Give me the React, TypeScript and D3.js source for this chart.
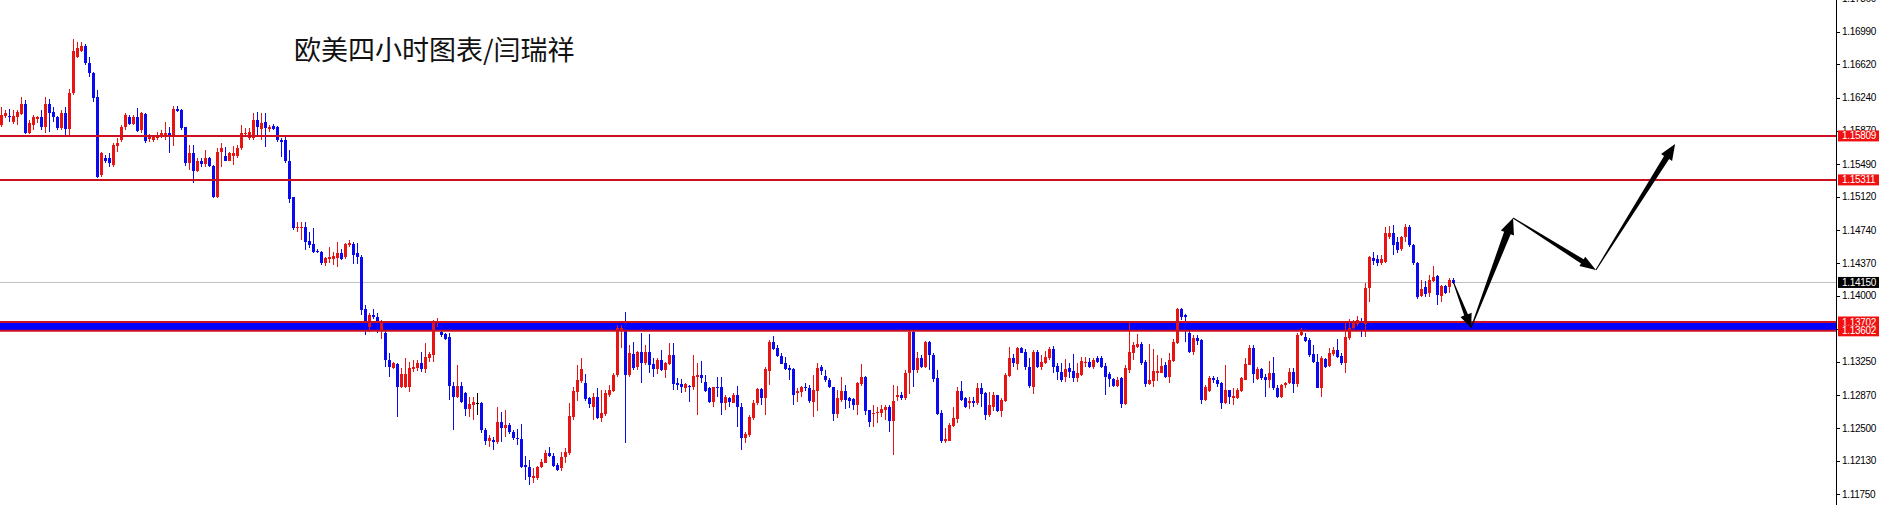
import React from "react";
import * as d3 from "d3";

const W = 1879;
const H = 505;
const AXIS_X = 1836;
const SLOTS = 459;

// [open, high, low, close], 4H bars
const bars: [number, number, number, number][] = [
  [1.1593,1.1614,1.1591,1.1605],[1.1603,1.1610,1.1601,1.1607],[1.1603,1.1611,1.1597,1.1602],[1.1597,1.1610,1.1594,1.1603],
  [1.1602,1.1610,1.1593,1.1608],[1.1606,1.1625,1.1605,1.1617],[1.1617,1.1622,1.1583,1.1584],[1.1584,1.1599,1.1583,1.1596],
  [1.1593,1.1605,1.1588,1.1602],[1.1600,1.1603,1.1596,1.1602],[1.1602,1.1610,1.1588,1.1591],[1.1591,1.1625,1.1584,1.1617],
  [1.1617,1.1623,1.1585,1.1607],[1.1608,1.1614,1.1597,1.1602],[1.1602,1.1603,1.1588,1.1590],[1.1590,1.1610,1.1588,1.1607],
  [1.1607,1.1614,1.1582,1.1589],[1.1589,1.1634,1.1582,1.1630],[1.1630,1.1691,1.1627,1.1677],[1.1670,1.1687,1.1669,1.1681],
  [1.1677,1.1687,1.1676,1.1683],[1.1683,1.1685,1.1661,1.1664],[1.1664,1.1670,1.1648,1.1652],[1.1652,1.1653,1.1619,1.1624],
  [1.1625,1.1633,1.1533,1.1534],[1.1537,1.1563,1.1534,1.1562],[1.1556,1.1559,1.1550,1.1553],[1.1556,1.1562,1.1546,1.1550],
  [1.1548,1.1573,1.1546,1.1571],[1.1570,1.1579,1.1563,1.1573],[1.1576,1.1593,1.1574,1.1591],[1.1591,1.1607,1.1588,1.1605],
  [1.1602,1.1605,1.1593,1.1594],[1.1594,1.1605,1.1593,1.1602],[1.1602,1.1613,1.1585,1.1587],[1.1588,1.1608,1.1584,1.1607],
  [1.1606,1.1607,1.1573,1.1575],[1.1577,1.1583,1.1574,1.1580],[1.1576,1.1581,1.1574,1.1580],[1.1579,1.1585,1.1576,1.1581],
  [1.1580,1.1588,1.1579,1.1584],[1.1582,1.1597,1.1576,1.1584],[1.1584,1.1591,1.1562,1.1581],[1.1581,1.1615,1.1570,1.1611],
  [1.1611,1.1615,1.1608,1.1609],[1.1610,1.1611,1.1588,1.1590],[1.1591,1.1591,1.1547,1.1550],[1.1550,1.1571,1.1542,1.1562],
  [1.1562,1.1571,1.1528,1.1541],[1.1541,1.1556,1.1540,1.1552],[1.1552,1.1556,1.1546,1.1549],[1.1549,1.1565,1.1546,1.1556],
  [1.1556,1.1557,1.1546,1.1547],[1.1547,1.1548,1.1511,1.1512],[1.1512,1.1567,1.1511,1.1563],[1.1563,1.1573,1.1546,1.1567],
  [1.1558,1.1568,1.1552,1.1553],[1.1553,1.1563,1.1552,1.1561],[1.1558,1.1570,1.1548,1.1561],[1.1558,1.1571,1.1556,1.1567],
  [1.1567,1.1593,1.1565,1.1584],[1.1583,1.1590,1.1580,1.1584],[1.1578,1.1590,1.1576,1.1585],[1.1578,1.1607,1.1576,1.1599],
  [1.1599,1.1608,1.1580,1.1591],[1.1589,1.1607,1.1576,1.1596],[1.1597,1.1607,1.1568,1.1590],[1.1589,1.1593,1.1585,1.1591],
  [1.1592,1.1594,1.1588,1.1589],[1.1591,1.1592,1.1574,1.1576],[1.1576,1.1579,1.1557,1.1574],[1.1576,1.1580,1.1550,1.1552],
  [1.1552,1.1565,1.1505,1.1510],[1.1512,1.1512,1.1474,1.1477],[1.1477,1.1484,1.1472,1.1478],[1.1477,1.1484,1.1463,1.1478],
  [1.1478,1.1484,1.1452,1.1461],[1.1462,1.1472,1.1454,1.1457],[1.1459,1.1477,1.1448,1.1450],[1.1451,1.1453,1.1448,1.1449],
  [1.1450,1.1451,1.1435,1.1437],[1.1437,1.1444,1.1434,1.1443],[1.1442,1.1455,1.1437,1.1444],[1.1442,1.1450,1.1435,1.1445],
  [1.1443,1.1461,1.1433,1.1448],[1.1448,1.1453,1.1440,1.1442],[1.1444,1.1460,1.1442,1.1459],[1.1457,1.1463,1.1455,1.1460],
  [1.1459,1.1461,1.1436,1.1446],[1.1448,1.1460,1.1436,1.1444],[1.1444,1.1446,1.1378,1.1384],[1.1385,1.1390,1.1356,1.1370],
  [1.1365,1.1380,1.1359,1.1378],[1.1378,1.1385,1.1374,1.1376],[1.1376,1.1380,1.1358,1.1369],[1.1361,1.1372,1.1351,1.1370],
  [1.1358,1.1361,1.1319,1.1327],[1.1327,1.1335,1.1308,1.1319],[1.1318,1.1325,1.1317,1.1324],[1.1323,1.1324,1.1263,1.1297],
  [1.1297,1.1318,1.1296,1.1311],[1.1297,1.1330,1.1295,1.1311],[1.1297,1.1325,1.1291,1.1318],[1.1317,1.1327,1.1314,1.1319],
  [1.1318,1.1327,1.1315,1.1324],[1.1324,1.1336,1.1314,1.1317],[1.1317,1.1346,1.1313,1.1331],[1.1330,1.1336,1.1325,1.1334],
  [1.1333,1.1372,1.1325,1.1370],[1.1369,1.1375,1.1365,1.1370],[1.1359,1.1361,1.1353,1.1355],[1.1357,1.1358,1.1350,1.1351],
  [1.1353,1.1358,1.1282,1.1298],[1.1298,1.1302,1.1248,1.1285],[1.1285,1.1322,1.1284,1.1298],[1.1298,1.1302,1.1278,1.1280],
  [1.1290,1.1291,1.1264,1.1272],[1.1272,1.1285,1.1263,1.1277],[1.1276,1.1285,1.1259,1.1280],[1.1278,1.1290,1.1265,1.1278],
  [1.1278,1.1280,1.1245,1.1248],[1.1248,1.1250,1.1231,1.1235],[1.1236,1.1242,1.1229,1.1239],[1.1237,1.1240,1.1225,1.1234],
  [1.1234,1.1274,1.1232,1.1257],[1.1257,1.1268,1.1234,1.1250],[1.1250,1.1271,1.1240,1.1254],[1.1254,1.1256,1.1243,1.1246],
  [1.1246,1.1248,1.1237,1.1239],[1.1239,1.1249,1.1231,1.1238],[1.1238,1.1255,1.1205,1.1206],[1.1208,1.1219,1.1191,1.1206],
  [1.1206,1.1214,1.1186,1.1195],[1.1194,1.1205,1.1188,1.1196],[1.1194,1.1207,1.1191,1.1206],[1.1206,1.1215,1.1205,1.1212],
  [1.1211,1.1225,1.1211,1.1222],[1.1222,1.1229,1.1217,1.1218],[1.1219,1.1222,1.1206,1.1207],[1.1208,1.1211,1.1202,1.1203],
  [1.1205,1.1223,1.1201,1.1217],[1.1217,1.1227,1.1211,1.1223],[1.1222,1.1279,1.1220,1.1264],[1.1263,1.1297,1.1259,1.1292],
  [1.1291,1.1321,1.1281,1.1304],[1.1303,1.1329,1.1301,1.1317],[1.1301,1.1311,1.1281,1.1283],[1.1284,1.1285,1.1273,1.1277],
  [1.1274,1.1290,1.1259,1.1285],[1.1285,1.1295,1.1260,1.1262],[1.1262,1.1293,1.1257,1.1267],[1.1266,1.1293,1.1264,1.1290],
  [1.1288,1.1299,1.1285,1.1293],[1.1292,1.1312,1.1291,1.1310],[1.1310,1.1367,1.1308,1.1363],[1.1360,1.1367,1.1341,1.1363],
  [1.1369,1.1382,1.1233,1.1310],[1.1310,1.1344,1.1308,1.1335],[1.1334,1.1347,1.1316,1.1318],[1.1319,1.1337,1.1316,1.1336],
  [1.1336,1.1358,1.1301,1.1324],[1.1324,1.1344,1.1322,1.1336],[1.1336,1.1357,1.1313,1.1322],[1.1323,1.1330,1.1308,1.1317],
  [1.1317,1.1330,1.1311,1.1327],[1.1327,1.1339,1.1315,1.1316],[1.1316,1.1325,1.1307,1.1324],[1.1323,1.1346,1.1322,1.1333],
  [1.1333,1.1346,1.1293,1.1300],[1.1301,1.1307,1.1293,1.1299],[1.1300,1.1306,1.1290,1.1297],[1.1296,1.1301,1.1291,1.1300],
  [1.1298,1.1299,1.1280,1.1297],[1.1297,1.1333,1.1293,1.1309],[1.1308,1.1324,1.1265,1.1310],[1.1310,1.1326,1.1301,1.1307],
  [1.1302,1.1310,1.1291,1.1292],[1.1295,1.1297,1.1279,1.1280],[1.1280,1.1297,1.1274,1.1297],[1.1297,1.1308,1.1285,1.1296],
  [1.1297,1.1308,1.1265,1.1278],[1.1278,1.1288,1.1271,1.1285],[1.1284,1.1285,1.1274,1.1280],[1.1279,1.1290,1.1278,1.1287],
  [1.1287,1.1298,1.1251,1.1274],[1.1274,1.1279,1.1225,1.1239],[1.1239,1.1246,1.1233,1.1243],[1.1242,1.1265,1.1240,1.1263],
  [1.1261,1.1282,1.1259,1.1279],[1.1279,1.1296,1.1276,1.1294],[1.1294,1.1296,1.1276,1.1284],[1.1284,1.1319,1.1265,1.1317],
  [1.1315,1.1350,1.1299,1.1347],[1.1347,1.1354,1.1338,1.1340],[1.1341,1.1344,1.1331,1.1332],[1.1332,1.1335,1.1323,1.1323],
  [1.1324,1.1331,1.1316,1.1317],[1.1318,1.1321,1.1305,1.1316],[1.1317,1.1318,1.1276,1.1288],[1.1290,1.1296,1.1280,1.1292],
  [1.1291,1.1298,1.1285,1.1297],[1.1297,1.1301,1.1292,1.1295],[1.1296,1.1299,1.1279,1.1281],[1.1280,1.1310,1.1263,1.1293],
  [1.1292,1.1324,1.1269,1.1318],[1.1319,1.1321,1.1310,1.1315],[1.1309,1.1316,1.1302,1.1304],[1.1305,1.1307,1.1295,1.1297],
  [1.1297,1.1297,1.1258,1.1266],[1.1266,1.1293,1.1262,1.1284],[1.1282,1.1308,1.1280,1.1292],[1.1292,1.1299,1.1272,1.1282],
  [1.1284,1.1285,1.1273,1.1281],[1.1283,1.1284,1.1271,1.1276],[1.1276,1.1302,1.1265,1.1301],[1.1300,1.1323,1.1298,1.1308],
  [1.1308,1.1309,1.1265,1.1270],[1.1271,1.1271,1.1251,1.1257],[1.1266,1.1276,1.1251,1.1267],[1.1267,1.1274,1.1256,1.1268],
  [1.1267,1.1276,1.1263,1.1272],[1.1271,1.1276,1.1259,1.1274],[1.1274,1.1276,1.1246,1.1258],[1.1258,1.1299,1.1220,1.1281],
  [1.1285,1.1298,1.1281,1.1287],[1.1287,1.1291,1.1282,1.1284],[1.1284,1.1316,1.1282,1.1313],[1.1313,1.1361,1.1289,1.1359],
  [1.1359,1.1360,1.1297,1.1316],[1.1316,1.1336,1.1312,1.1330],[1.1330,1.1333,1.1318,1.1319],[1.1319,1.1349,1.1318,1.1347],
  [1.1347,1.1349,1.1316,1.1333],[1.1333,1.1335,1.1302,1.1306],[1.1307,1.1316,1.1265,1.1266],[1.1267,1.1271,1.1233,1.1235],
  [1.1236,1.1250,1.1233,1.1238],[1.1236,1.1256,1.1235,1.1254],[1.1253,1.1274,1.1251,1.1262],[1.1260,1.1297,1.1256,1.1292],
  [1.1292,1.1303,1.1281,1.1282],[1.1284,1.1285,1.1273,1.1274],[1.1279,1.1285,1.1272,1.1281],[1.1281,1.1285,1.1274,1.1279],
  [1.1279,1.1301,1.1276,1.1295],[1.1296,1.1301,1.1274,1.1289],[1.1290,1.1291,1.1259,1.1265],[1.1265,1.1291,1.1263,1.1276],
  [1.1274,1.1291,1.1270,1.1287],[1.1287,1.1288,1.1268,1.1270],[1.1270,1.1284,1.1263,1.1282],[1.1281,1.1312,1.1280,1.1310],
  [1.1309,1.1342,1.1308,1.1329],[1.1329,1.1334,1.1319,1.1324],[1.1323,1.1342,1.1316,1.1341],[1.1341,1.1342,1.1335,1.1335],
  [1.1336,1.1340,1.1316,1.1319],[1.1319,1.1330,1.1295,1.1298],[1.1297,1.1339,1.1289,1.1336],[1.1336,1.1339,1.1318,1.1319],
  [1.1319,1.1333,1.1316,1.1325],[1.1324,1.1337,1.1323,1.1331],[1.1329,1.1342,1.1327,1.1340],[1.1340,1.1343,1.1313,1.1319],
  [1.1320,1.1324,1.1305,1.1314],[1.1314,1.1324,1.1302,1.1304],[1.1308,1.1328,1.1302,1.1317],[1.1318,1.1324,1.1307,1.1314],
  [1.1315,1.1334,1.1302,1.1307],[1.1307,1.1324,1.1302,1.1312],[1.1310,1.1331,1.1309,1.1326],[1.1324,1.1331,1.1319,1.1325],
  [1.1325,1.1330,1.1318,1.1319],[1.1319,1.1330,1.1317,1.1327],[1.1330,1.1332,1.1324,1.1325],[1.1330,1.1332,1.1318,1.1319],
  [1.1320,1.1324,1.1288,1.1308],[1.1311,1.1314,1.1297,1.1306],[1.1306,1.1307,1.1297,1.1298],[1.1298,1.1308,1.1297,1.1305],
  [1.1307,1.1308,1.1273,1.1277],[1.1277,1.1322,1.1276,1.1318],[1.1316,1.1370,1.1313,1.1336],[1.1335,1.1347,1.1327,1.1344],
  [1.1342,1.1357,1.1341,1.1345],[1.1345,1.1347,1.1322,1.1324],[1.1325,1.1327,1.1297,1.1300],[1.1300,1.1345,1.1299,1.1304],
  [1.1303,1.1340,1.1297,1.1315],[1.1313,1.1333,1.1303,1.1315],[1.1313,1.1330,1.1312,1.1320],[1.1321,1.1325,1.1307,1.1308],
  [1.1308,1.1335,1.1301,1.1327],[1.1326,1.1351,1.1325,1.1347],[1.1346,1.1386,1.1345,1.1385],[1.1385,1.1386,1.1373,1.1376],
  [1.1378,1.1379,1.1348,1.1376],[1.1358,1.1360,1.1335,1.1336],[1.1336,1.1356,1.1333,1.1352],[1.1352,1.1356,1.1344,1.1349],
  [1.1350,1.1351,1.1277,1.1282],[1.1282,1.1299,1.1281,1.1297],[1.1292,1.1309,1.1291,1.1307],[1.1307,1.1309,1.1301,1.1304],
  [1.1304,1.1308,1.1297,1.1300],[1.1301,1.1302,1.1272,1.1279],[1.1279,1.1322,1.1277,1.1293],[1.1293,1.1293,1.1277,1.1285],
  [1.1284,1.1295,1.1276,1.1286],[1.1284,1.1295,1.1283,1.1293],[1.1292,1.1308,1.1291,1.1307],[1.1305,1.1329,1.1304,1.1323],
  [1.1322,1.1344,1.1321,1.1341],[1.1341,1.1344,1.1301,1.1311],[1.1306,1.1319,1.1305,1.1317],[1.1317,1.1318,1.1305,1.1307],
  [1.1308,1.1311,1.1285,1.1305],[1.1304,1.1326,1.1296,1.1312],[1.1312,1.1331,1.1293,1.1295],[1.1296,1.1299,1.1284,1.1285],
  [1.1285,1.1300,1.1284,1.1299],[1.1299,1.1302,1.1295,1.1301],[1.1301,1.1318,1.1300,1.1314],[1.1314,1.1318,1.1290,1.1300],
  [1.1300,1.1358,1.1297,1.1356],[1.1355,1.1363,1.1354,1.1359],[1.1353,1.1358,1.1347,1.1349],[1.1350,1.1352,1.1331,1.1333],
  [1.1334,1.1344,1.1324,1.1325],[1.1325,1.1334,1.1295,1.1296],[1.1296,1.1332,1.1285,1.1329],[1.1328,1.1330,1.1318,1.1319],
  [1.1320,1.1341,1.1319,1.1335],[1.1334,1.1342,1.1332,1.1338],[1.1338,1.1351,1.1330,1.1331],[1.1332,1.1335,1.1322,1.1324],
  [1.1324,1.1369,1.1312,1.1353],[1.1352,1.1374,1.1350,1.1363],[1.1363,1.1373,1.1362,1.1369],[1.1368,1.1377,1.1366,1.1372],
  [1.1371,1.1375,1.1353,1.1369],[1.1368,1.1414,1.1353,1.1409],[1.1409,1.1445,1.1393,1.1444],[1.1443,1.1450,1.1435,1.1439],
  [1.1442,1.1446,1.1434,1.1437],[1.1437,1.1446,1.1435,1.1442],[1.1438,1.1478,1.1437,1.1471],[1.1467,1.1479,1.1464,1.1471],
  [1.1471,1.1480,1.1446,1.1457],[1.1461,1.1467,1.1448,1.1452],[1.1453,1.1468,1.1451,1.1467],[1.1467,1.1481,1.1461,1.1478],
  [1.1478,1.1480,1.1455,1.1457],[1.1457,1.1459,1.1435,1.1437],[1.1437,1.1438,1.1396,1.1399],[1.1400,1.1418,1.1399,1.1408],
  [1.1410,1.1417,1.1399,1.1402],[1.1403,1.1423,1.1399,1.1418],[1.1417,1.1434,1.1416,1.1421],[1.1422,1.1423,1.1390,1.1401],
  [1.1400,1.1412,1.1393,1.1411],[1.1411,1.1412,1.1402,1.1403],[1.1410,1.1420,1.1403,1.1418],[1.1418,1.1420,1.1413,1.1414],
];

const yTicks = [1.1736, 1.1699, 1.1662, 1.1624, 1.1587, 1.1549, 1.1512, 1.1474, 1.1437, 1.14, 1.1362, 1.1325, 1.1287, 1.125, 1.1213, 1.1175];
const resistances = [1.15809, 1.15311];
const supportBand = [1.13702, 1.13602];
const lastPrice = 1.1415;
const title = "欧美四小时图表/闫瑞祥";

// projected path: [bar index, price]
const projection: [number, number][] = [
  [363, 1.1415],
  [367.4, 1.13635],
  [377.9, 1.1488],
  [398.6, 1.14292],
  [418.4, 1.15718],
];
// per leg: tail width, shaft width at head, head length, head width
const legStyle = [
  [1, 4, 14, 12],
  [1, 7, 16, 14],
  [1, 5, 16, 11],
  [1, 6, 16, 13],
];

const UP = "#e81414";
const DOWN = "#0a0af0";
const LEVEL_RED = "#cc1020";

function arrowPoints(x0: number, y0: number, x1: number, y1: number, s: number[]) {
  const [w0, w1, hl, hw] = s;
  const dx = x1 - x0, dy = y1 - y0;
  const len = Math.hypot(dx, dy);
  const ux = dx / len, uy = dy / len;
  const nx = -uy, ny = ux;
  const bx = x1 - ux * hl, by = y1 - uy * hl;
  const pts = [
    [x0 + nx * w0 / 2, y0 + ny * w0 / 2],
    [bx + nx * w1 / 2, by + ny * w1 / 2],
    [bx + nx * hw / 2, by + ny * hw / 2],
    [x1, y1],
    [bx - nx * hw / 2, by - ny * hw / 2],
    [bx - nx * w1 / 2, by - ny * w1 / 2],
    [x0 - nx * w0 / 2, y0 - ny * w0 / 2],
  ];
  return pts.map((p) => p.join(",")).join(" ");
}

export default function App() {
  const x = d3.scaleLinear().domain([0, SLOTS]).range([0, AXIS_X]);
  const y = d3.scaleLinear().domain([1.1163, 1.17348]).range([H, 0]);
  const cx = (i: number) => x(i) + 1.5;

  const labelFont = { fontFamily: "Liberation Sans, Arial, sans-serif", fontSize: 10 };

  return (
    <svg width={W} height={H} style={{ position: "absolute", left: 0, top: 0, background: "#fff" }}>
      <rect width={W} height={H} fill="#fff" />

      {/* support band fill */}
      <rect x={0} y={y(supportBand[0])} width={AXIS_X} height={y(supportBand[1]) - y(supportBand[0])} fill="#0000ff" />

      {/* last price line */}
      <line x1={0} x2={AXIS_X} y1={Math.round(y(lastPrice)) + 0.5} y2={Math.round(y(lastPrice)) + 0.5} stroke="#c0c0c0" strokeWidth={1} />

      {/* candles */}
      {bars.map(([o, h, l, c], i) => {
        const col = c > o ? UP : c < o ? DOWN : "#000";
        const top = Math.round(y(Math.max(o, c)));
        const bot = Math.round(y(Math.min(o, c)));
        const left = Math.round(x(i));
        return (
          <g key={i}>
            <rect x={left + 1} y={Math.round(y(h))} width={1} height={Math.max(1, Math.round(y(l)) - Math.round(y(h)))} fill={col} />
            <rect x={left} y={top} width={3} height={Math.max(1, bot - top)} fill={col} />
          </g>
        );
      })}

      {/* levels */}
      {resistances.map((p) => (
        <line key={p} x1={0} x2={AXIS_X} y1={y(p)} y2={y(p)} stroke={LEVEL_RED} strokeWidth={2} />
      ))}
      {supportBand.map((p) => (
        <line key={p} x1={0} x2={AXIS_X} y1={y(p)} y2={y(p)} stroke={LEVEL_RED} strokeWidth={2} />
      ))}

      {/* projection arrows */}
      {projection.slice(1).map((p, k) => {
        const a = projection[k];
        return (
          <polygon key={k} points={arrowPoints(cx(a[0]), y(a[1]), cx(p[0]), y(p[1]), legStyle[k])} fill="#000" />
        );
      })}

      {/* title */}
      <text x={294} y={60} fontFamily="Noto Sans CJK SC" fontSize={27} fill="#111">{title}</text>

      {/* price axis */}
      <line x1={AXIS_X + 0.5} x2={AXIS_X + 0.5} y1={0} y2={H} stroke="#000" strokeWidth={1} />
      {yTicks.map((t) => (
        <g key={t}>
          <line x1={AXIS_X} x2={AXIS_X + 4} y1={Math.round(y(t)) + 0.5} y2={Math.round(y(t)) + 0.5} stroke="#000" />
          <text x={AXIS_X + 6} y={y(t)} dy="0.35em" {...labelFont} letterSpacing={-0.3} fill="#000">{t.toFixed(5)}</text>
        </g>
      ))}

      {[...resistances, ...supportBand].map((p) => (
        <g key={"lab" + p}>
          <rect x={AXIS_X + 2} y={y(p) - 5.5} width={W - AXIS_X - 2} height={11} fill="#f01010" />
          <text x={AXIS_X + 6} y={y(p)} dy="0.35em" {...labelFont} letterSpacing={-0.3} fill="#fff">{p.toFixed(5)}</text>
        </g>
      ))}
      <rect x={AXIS_X + 2} y={y(lastPrice) - 5.5} width={W - AXIS_X - 2} height={11} fill="#000" />
      <text x={AXIS_X + 6} y={y(lastPrice)} dy="0.35em" {...labelFont} letterSpacing={-0.3} fill="#fff">{lastPrice.toFixed(5)}</text>
    </svg>
  );
}
